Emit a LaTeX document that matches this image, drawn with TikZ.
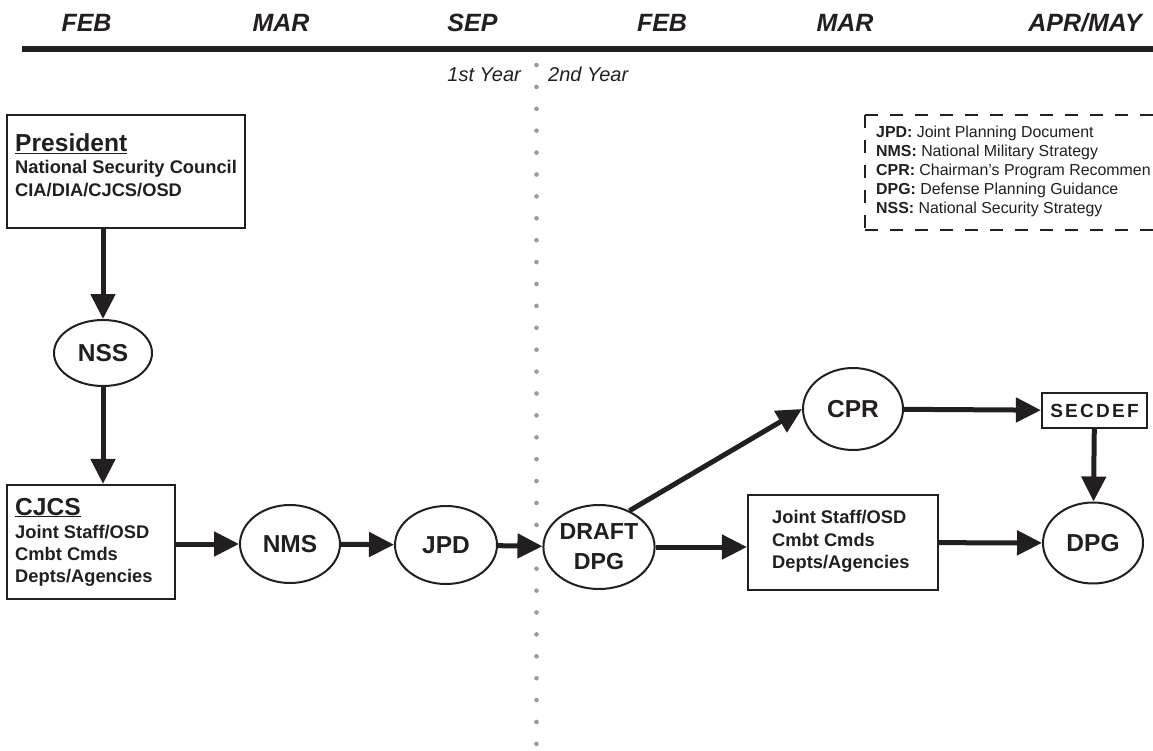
\documentclass[tikz,border=0pt]{standalone}
\usepackage{fontspec}
\setmainfont{Liberation Sans}
\newfontfamily\spacedfont[LetterSpace=12]{Liberation Sans}
\usetikzlibrary{arrows.meta,shapes.geometric}
\definecolor{ink}{HTML}{231F20}
\definecolor{dotgray}{HTML}{9A9A9A}
\begin{document}
\begin{tikzpicture}[x=1pt,y=-1pt,
  month/.style={font=\fontsize{25}{28}\selectfont\bfseries\itshape, anchor=base, inner sep=0, text=ink},
  yearlbl/.style={font=\fontsize{20}{24}\selectfont\itshape, inner sep=0, text=ink},
  ell/.style={ellipse, draw=ink, line width=2pt, minimum width=100pt, minimum height=80pt, inner sep=0, font=\fontsize{24.5}{30}\selectfont\bfseries, align=center, text=ink},
  boxframe/.style={draw=ink, line width=2.2pt, inner sep=0},
  ttl/.style={font=\fontsize{24.6}{28}\selectfont\bfseries, anchor=base west, inner sep=0, text=ink},
  bodytxt/.style={font=\fontsize{18.3}{22}\selectfont\bfseries, anchor=base west, inner sep=0, text=ink},
  leg/.style={font=\fontsize{15.9}{19}\selectfont, anchor=base west, inner sep=0, text=ink},
  arr/.style={draw=ink, line width=5pt, -{Triangle[length=25pt,width=24pt]}},
  legline/.style={draw=ink, line width=2.8pt, dash pattern=on 13pt off 12pt},
]
\useasboundingbox (0,0) rectangle (1153,751);
\fill[white] (0,0) rectangle (1153,751);

% timeline header
\node[month] (m1) at (86.5,32) {FEB};
\node[month] (m2) at (281,32) {MAR};
\node[month] (m3) at (472.5,32) {SEP};
\node[month] (m4) at (662,32) {FEB};
\node[month] (m5) at (845,32) {MAR};
\node[month] (m6) at (1085,32) {APR/MAY};
\draw[ink, line width=5.5pt] (22,49) -- (1153,49);

\node[yearlbl, anchor=base east] (y1) at (521,82) {1st Year};
\node[yearlbl, anchor=base west] (y2) at (548,82) {2nd Year};
\foreach \i in {0,...,31} \fill[dotgray] (536.5,{65+\i*21.9}) circle[radius=2.3pt];

% legend
\draw[legline] (865,115) -- (1153,115);
\draw[legline] (865,115) -- (865,230);
\draw[legline] (865,230) -- (1153,230);
\node[leg] (l1) at (876,138) {\textbf{JPD:} Joint Planning Document};
\node[leg] (l2) at (876,157) {\textbf{NMS:} National Military Strategy};
\node[leg] (l3) at (876,176) {\textbf{CPR:} Chairman’s Program Recommen};
\node[leg] (l4) at (876,195) {\textbf{DPG:} Defense Planning Guidance};
\node[leg] (l5) at (876,214) {\textbf{NSS:} National Security Strategy};

% President box
\node[boxframe, minimum width=238pt, minimum height=113pt] (pres) at (126,171.5) {};
\node[ttl] (prest) at (15,152) {\underline{President}};
\node[bodytxt] (presl1) at (15,174) {National Security Council};
\node[bodytxt] (presl2) at (15,197) {CIA/DIA/CJCS/OSD};

% NSS
\node[ell, minimum width=98pt, minimum height=66pt] (nss) at (103,353) {NSS};

% CJCS box
\node[boxframe, minimum width=168pt, minimum height=114pt] (cjcs) at (91,542) {};
\node[ttl] (cjcst) at (15,515) {\underline{CJCS}};
\node[bodytxt] (cjcsl1) at (15,538) {Joint Staff/OSD};
\node[bodytxt] (cjcsl2) at (15,560) {Cmbt Cmds};
\node[bodytxt] (cjcsl3) at (15,582) {Depts/Agencies};

% ellipses
\node[ell, minimum height=78pt] (nms) at (290,544) {NMS};
\node[ell, minimum width=102pt, minimum height=78pt] (jpd) at (446,545) {JPD};
\node[ell, minimum width=100pt, minimum height=84pt, font=\fontsize{23.2}{30}\selectfont\bfseries] (draft) at (599,547) {DRAFT\\DPG};
\node[ell, minimum height=82pt] (cpr) at (853,409) {CPR};
\node[ell, minimum height=81pt] (dpg) at (1093,543) {DPG};

% middle box
\node[boxframe, minimum width=190pt, minimum height=95pt] (js) at (843,542.5) {};
\node[bodytxt] (jsl1) at (772,523) {Joint Staff/OSD};
\node[bodytxt] (jsl2) at (772,546) {Cmbt Cmds};
\node[bodytxt] (jsl3) at (772,568) {Depts/Agencies};

% SECDEF
\node[boxframe, minimum width=105pt, minimum height=35pt, font=\fontsize{19}{20}\selectfont\spacedfont\bfseries, text=ink] (secdef) at (1094.5,410.5) {SECDEF};

% connectors
\draw[arr] (nss |- pres.south) -- (nss);
\draw[arr] (nss) -- (nss |- cjcs.north);
\draw[arr] (cjcs.east |- nms) -- (nms);
\draw[arr] (nms) -- (jpd);
\draw[arr] (jpd) -- (draft);
\draw[arr] (draft) -- (draft -| js.west);
\draw[arr] (draft.50) -- (cpr.west);
\draw[arr] (cpr) -- (secdef);
\draw[arr] (secdef) -- (dpg);
\draw[arr] (js) -- (dpg);
\end{tikzpicture}
\end{document}
